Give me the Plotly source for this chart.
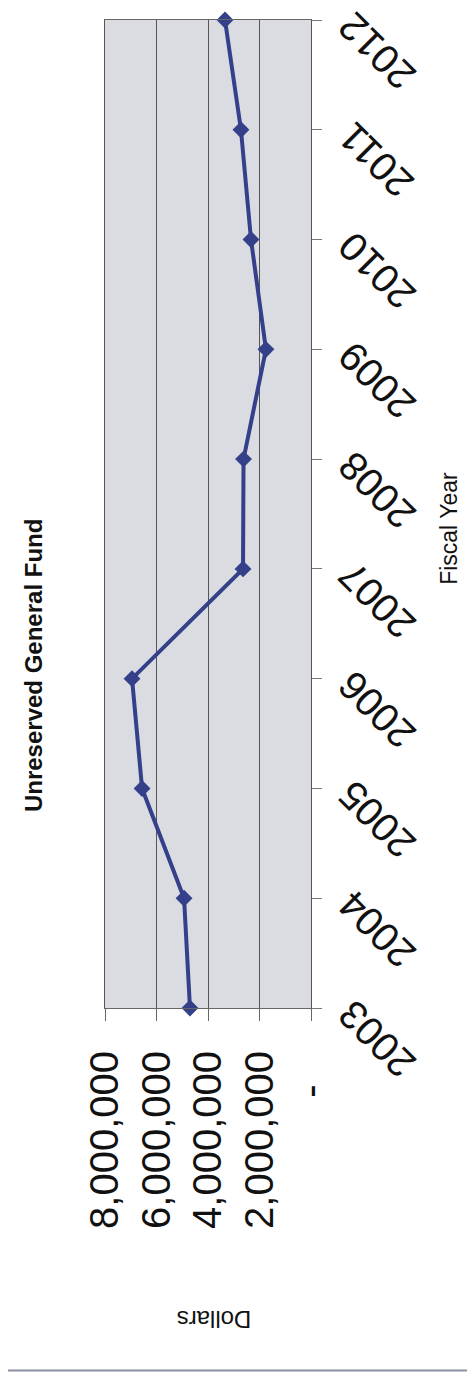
import plotly.graph_objects as go

years = [2003, 2004, 2005, 2006, 2007, 2008, 2009, 2010, 2011, 2012]
fund = [4700000, 4930000, 6560000, 6950000, 2640000, 2620000, 1750000, 2330000, 2720000, 3340000]
dollar_ticks = [0, 2000000, 4000000, 6000000, 8000000]
dollar_labels = ["-\u00a0\u00a0\u00a0", "2,000,000", "4,000,000", "6,000,000", "8,000,000"]
year_labels = [str(y) for y in years]

FONT = "Arial, Liberation Sans, sans-serif"
LINE = "#34408a"

fig = go.Figure()
fig.add_trace(go.Scatter(
    x=fund, y=years, mode="lines+markers",
    line=dict(color=LINE, width=4),
    marker=dict(symbol="diamond", size=13, color=LINE),
    showlegend=False, cliponaxis=False,
))

fig.update_layout(
    width=475, height=1373,
    margin=dict(l=97, r=172, t=12, b=373, autoexpand=False),
    paper_bgcolor="white", plot_bgcolor="#dadce1",
    font=dict(family=FONT, color="#111111"),
    xaxis=dict(
        range=[8000000, 0], tickvals=dollar_ticks, ticktext=dollar_labels,
        tickangle=-90, tickfont=dict(size=40, family=FONT, color="#111111"),
        showgrid=True, gridcolor="#555555", gridwidth=1,
        showline=True, linecolor="#666666", linewidth=1, mirror=True,
        ticks="outside", ticklen=12, tickcolor="#666666",
        ticklabelstandoff=14, zeroline=False, automargin=False,
    ),
    yaxis=dict(
        range=[2003, 2012], tickvals=years, ticktext=year_labels,
        side="right", tickangle=-135,
        ticklabelposition="inside", ticklabelstandoff=-45, ticklabelshift=10,
        ticklabeloverflow="allow",
        tickfont=dict(size=40, family=FONT, color="#111111"),
        showgrid=False, showline=True, linecolor="#555555", linewidth=1, mirror=True,
        ticks="outside", ticklen=10, tickcolor="#777777", zeroline=False,
        automargin=False,
    ),
    annotations=[
        dict(text="<b>Unreserved General Fund</b>", xref="paper", yref="paper",
             x=-0.35, y=0.347, xanchor="center", yanchor="middle",
             showarrow=False, textangle=-90,
             font=dict(size=24, family=FONT, color="#111111")),
        dict(text="Fiscal Year", xref="paper", yref="paper",
             x=1.67, y=0.485, xanchor="center", yanchor="middle",
             showarrow=False, textangle=-90,
             font=dict(size=23, family=FONT, color="#111111")),
        dict(text="Dollars", xref="paper", yref="paper",
             x=0.53, y=-0.316, xanchor="center", yanchor="middle",
             showarrow=False, textangle=180,
             font=dict(size=24, family=FONT, color="#111111")),
    ],
    shapes=[
        dict(type="line", xref="paper", yref="paper", x0=-0.471, x1=1.835,
             y0=-0.367, y1=-0.367, line=dict(color="#8a90a0", width=2)),
    ],
)

fig.write_html("out.html")
